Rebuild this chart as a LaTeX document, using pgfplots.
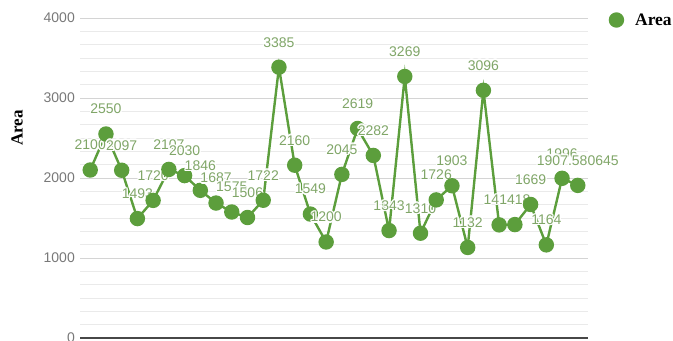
\documentclass[border=0pt]{standalone}
\usepackage{pgfplots}
\pgfplotsset{compat=1.18}
\usepackage{pgfplotstable}
\usepackage{fontspec}
\setmainfont{Liberation Sans}
\newfontfamily\labelserif{Liberation Serif}

\definecolor{areagreen}{RGB}{92,158,60}
\definecolor{valgreen}{RGB}{128,166,104}
\definecolor{tickgray}{RGB}{120,120,120}
\definecolor{majorgrid}{RGB}{212,212,212}
\definecolor{minorgrid}{RGB}{234,234,234}

% value label with a white aura around the glyphs
\newcommand\halo[1]{\leavevmode
  \rlap{\textcolor{white}{\kern1.3bp#1}}%
  \rlap{\textcolor{white}{\kern-1.3bp#1}}%
  \rlap{\textcolor{white}{\raisebox{1.3bp}{#1}}}%
  \rlap{\textcolor{white}{\raisebox{-1.3bp}{#1}}}%
  \rlap{\textcolor{white}{\kern1bp\raisebox{1bp}{#1}}}%
  \rlap{\textcolor{white}{\kern-1bp\raisebox{1bp}{#1}}}%
  \rlap{\textcolor{white}{\kern1bp\raisebox{-1bp}{#1}}}%
  \rlap{\textcolor{white}{\kern-1bp\raisebox{-1bp}{#1}}}%
  #1}

\pgfplotstableread{
idx area label
0  2100 2100
1  2550 2550
2  2097 2097
3  1493 1493
4  1720 1720
5  2107 2107
6  2030 2030
7  1846 1846
8  1687 1687
9  1575 1575
10 1506 1506
11 1722 1722
12 3385 3385
13 2160 2160
14 1549 1549
15 1200 1200
16 2045 2045
17 2619 2619
18 2282 2282
19 1343 1343
20 3269 3269
21 1310 1310
22 1726 1726
23 1903 1903
24 1132 1132
25 3096 3096
26 1414 1414
27 1418 1418
28 1669 1669
29 1164 1164
30 1996 1996
31 1907.580645 1907.580645
}\areadata

\begin{document}
\begin{tikzpicture}
\begin{axis}[
  at={(80bp,3bp)}, anchor=south west,
  scale only axis, width=508bp, height=320bp,
  xmin=-0.65, xmax=31.65,
  ymin=0, ymax=4000,
  ytick={0,1000,2000,3000,4000},
  minor y tick num=5,
  xtick=\empty,
  axis x line=bottom, axis y line=left,
  x axis line style={draw=black!72, line width=1.3bp, -},
  y axis line style={draw=none},
  major tick length=0pt, minor tick length=0pt,
  ymajorgrids, yminorgrids,
  major grid style={draw=majorgrid, line width=0.9bp},
  minor grid style={draw=minorgrid, line width=0.9bp},
  /pgf/number format/assume math mode=true,
  /pgf/number format/1000 sep={},
  yticklabel style={font=\fontsize{14bp}{16bp}\selectfont, text=tickgray,
                    inner sep=0pt, xshift=-5bp},
  ylabel={Area},
  ylabel style={at={(axis description cs:-0.124,0.656)}, anchor=center,
                font=\labelserif\bfseries\fontsize{17bp}{19bp}\selectfont},
  legend image code/.code={\fill[areagreen] (0bp,0bp) circle (6.5bp);},
  legend style={at={(rel axis cs:1.0404,0.99375)}, anchor=west,
                draw=none, fill=none, inner sep=0pt,
                font=\labelserif\bfseries\fontsize{17.5bp}{19bp}\selectfont,
                nodes={inner sep=0pt},
                /tikz/every odd column/.append style={column sep=11bp}},
  clip=false,
]
\addplot[
  color=areagreen, line width=2.4bp,
  mark=*, mark size=6.5bp,
  mark options={draw=none, fill=areagreen},
  point meta=explicit symbolic,
  nodes near coords={\halo{\pgfplotspointmeta}},
  every node near coord/.style={anchor=center, yshift=25bp, inner sep=0pt,
        text=valgreen, font=\fontsize{14bp}{16bp}\selectfont},
] table[x=idx, y=area, meta=label] {\areadata};
\addlegendentry{Area}
\end{axis}
\pgfresetboundingbox
\path (0,0) rectangle (673bp,341bp);
\end{tikzpicture}
\end{document}
